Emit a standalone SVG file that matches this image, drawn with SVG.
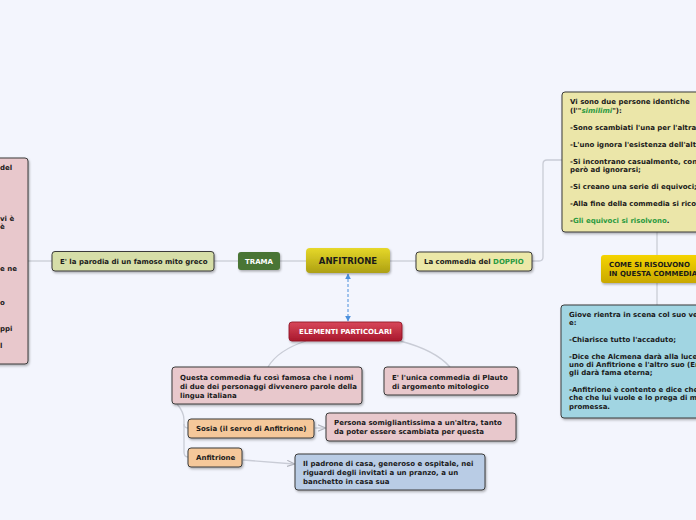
<svg xmlns="http://www.w3.org/2000/svg" width="696" height="520" viewBox="0 0 696 520">
<style>
text{font-family:"DejaVu Sans",Verdana,sans-serif;font-weight:bold;font-size:7px;fill:#1a1a1a}
.w{fill:#fff}
.g{fill:#2a9a40}
.box{stroke:#3a3a3a;stroke-width:1}
.c{fill:none;stroke:#c9ccd6;stroke-width:1.3}
</style>
<defs>
<filter id="sh" x="-10%" y="-10%" width="130%" height="140%"><feDropShadow dx="1" dy="1.5" stdDeviation="1" flood-color="#000" flood-opacity="0.3"/></filter>
<linearGradient id="gy" x1="0" y1="0" x2="0" y2="1"><stop offset="0" stop-color="#e6d82a"/><stop offset="1" stop-color="#ada012"/></linearGradient>
<linearGradient id="gg" x1="0" y1="0" x2="0" y2="1"><stop offset="0" stop-color="#f5d400"/><stop offset="1" stop-color="#c9a800"/></linearGradient>
<linearGradient id="gr" x1="0" y1="0" x2="0" y2="1"><stop offset="0" stop-color="#d8475a"/><stop offset="1" stop-color="#a8182c"/></linearGradient>
<marker id="ab" viewBox="0 0 10 10" refX="9" refY="5" markerWidth="6" markerHeight="6" orient="auto-start-reverse"><path d="M0,0 L10,5 L0,10 z" fill="#4a8fdc"/></marker>
<marker id="ag" viewBox="0 0 10 10" refX="9" refY="5" markerWidth="6" markerHeight="6" orient="auto"><path d="M0,1 L10,5 L0,9" fill="none" stroke="#b0b3bc" stroke-width="1.5"/></marker>
</defs>
<rect width="696" height="520" fill="#f3f5fd"/>
<g id="connectors">
<path class="c" d="M28,261 H52"/>
<path class="c" d="M214,261 H238"/>
<path class="c" d="M280,261 H306"/>
<path class="c" d="M390,261 H416"/>
<path class="c" d="M532,261 H539 Q543,261 543,257 V164 Q543,160 547,160 H562"/>
<path class="c" d="M657,232 V255"/>
<path class="c" d="M657,283 V305"/>
<path d="M348,274 V321" fill="none" stroke="#4a8fdc" stroke-width="1" stroke-dasharray="3,2" marker-start="url(#ab)" marker-end="url(#ab)"/>
<path class="c" d="M306,341 Q278,350 268,367"/>
<path class="c" d="M400,341 Q435,350 450,367"/>
<path class="c" d="M177,404 Q184,412 184,420 V452 Q184,457 188,457"/>
<path class="c" d="M184,424 Q184,428 188,428"/>
<path class="c" d="M315,428 H325" marker-end="url(#ag)"/>
<path class="c" d="M243,460 L294,464" marker-end="url(#ag)"/>
</g>
<g id="left-note">
<rect class="box" x="-10" y="158" width="38" height="206" rx="3" fill="#e8c8cc" filter="url(#sh)"/>
<text x="0" y="170">del</text>
<text x="0" y="221">vi è</text>
<text x="0" y="229">è</text>
<text x="0" y="271">e ne</text>
<text x="0" y="305">o</text>
<text x="0" y="331">ppi</text>
<text x="0" y="348">l</text>
</g>
<g id="parodia">
<rect class="box" x="52" y="251.5" width="162" height="19.5" rx="3" fill="#d6dea8" filter="url(#sh)"/>
<text x="60" y="264">E' la parodia di un famoso mito greco</text>
</g>
<g id="trama">
<rect x="238" y="252" width="42" height="18" rx="3" fill="#4a7535" filter="url(#sh)"/>
<text class="w" x="259" y="264" text-anchor="middle">TRAMA</text>
</g>
<g id="anfitrione">
<rect x="306" y="248" width="84" height="25" rx="4" fill="url(#gy)" filter="url(#sh)"/>
<text x="348" y="264" text-anchor="middle" style="font-size:8.5px">ANFITRIONE</text>
</g>
<g id="doppio">
<rect class="box" x="416" y="252" width="116" height="19" rx="3" fill="#ece8a8" filter="url(#sh)"/>
<text x="424" y="264">La commedia del <tspan class="g">DOPPIO</tspan></text>
</g>
<g id="similimi">
<rect class="box" x="562" y="92" width="150" height="140" rx="3" fill="#ebe6a9" filter="url(#sh)"/>
<text x="570" y="104">Vi sono due persone identiche</text>
<text x="570" y="113">(l'"<tspan class="g" font-style="italic">similimi</tspan>"):</text>
<text x="570" y="130">-Sono scambiati l'una per l'altra</text>
<text x="570" y="147">-L'uno ignora l'esistenza dell'altro</text>
<text x="570" y="164">-Si incontrano casualmente, continuando</text>
<text x="570" y="172">però ad ignorarsi;</text>
<text x="570" y="189">-Si creano una serie di equivoci;</text>
<text x="570" y="206">-Alla fine della commedia si riconoscono</text>
<text x="570" y="223">-<tspan class="g">Gli equivoci si risolvono</tspan>.</text>
</g>
<g id="come">
<rect x="601" y="255" width="110" height="28" rx="3" fill="url(#gg)" filter="url(#sh)"/>
<text x="609" y="267">COME SI RISOLVONO</text>
<text x="609" y="276">IN QUESTA COMMEDIA</text>
</g>
<g id="giove">
<rect class="box" x="561" y="305" width="150" height="113" rx="3" fill="#a1d5e2" filter="url(#sh)"/>
<text x="569" y="317">Giove rientra in scena col suo vero</text>
<text x="569" y="325">e:</text>
<text x="569" y="342">-Chiarisce tutto l'accaduto;</text>
<text x="569" y="359">-Dice che Alcmena darà alla luce due</text>
<text x="569" y="367">uno di Anfitrione e l'altro suo (Ercole)</text>
<text x="569" y="375">gli darà fama eterna;</text>
<text x="569" y="392">-Anfitrione è contento e dice che farà</text>
<text x="569" y="400">che che lui vuole e lo prega di mantenere</text>
<text x="569" y="409">promessa.</text>
</g>
<g id="elementi">
<rect x="289" y="322" width="113" height="19" rx="3" fill="url(#gr)" stroke="#8a1020" stroke-width="0.8" filter="url(#sh)"/>
<text class="w" x="345.5" y="334" text-anchor="middle">ELEMENTI PARTICOLARI</text>
</g>
<g id="questa">
<rect class="box" x="172" y="367" width="190" height="37" rx="3" fill="#e8c8cc" filter="url(#sh)"/>
<text x="180" y="380">Questa commedia fu così famosa che i nomi</text>
<text x="180" y="389">di due dei personaggi divvenero parole della</text>
<text x="180" y="398">lingua italiana</text>
</g>
<g id="unica">
<rect class="box" x="384" y="367" width="134" height="28" rx="3" fill="#e8c8cc" filter="url(#sh)"/>
<text x="392" y="380">E' l'unica commedia di Plauto</text>
<text x="392" y="389">di argomento mitologico</text>
</g>
<g id="sosia">
<rect class="box" x="188" y="419" width="126" height="19" rx="3" fill="#f5c89a" filter="url(#sh)"/>
<text x="196" y="431">Sosia (il servo di Anfitrione)</text>
</g>
<g id="persona">
<rect class="box" x="326" y="413" width="190" height="28" rx="3" fill="#e8c8cc" filter="url(#sh)"/>
<text x="334" y="425">Persona somigliantissima a un'altra, tanto</text>
<text x="334" y="434">da poter essere scambiata per questa</text>
</g>
<g id="anfitrione2">
<rect class="box" x="188" y="448" width="54" height="19" rx="3" fill="#f5c89a" filter="url(#sh)"/>
<text x="196" y="460">Anfitrione</text>
</g>
<g id="padrone">
<rect class="box" x="295" y="454" width="190" height="36" rx="3" fill="#b9cce5" filter="url(#sh)"/>
<text x="303" y="466">Il padrone di casa, generoso e ospitale, nei</text>
<text x="303" y="475">riguardi degli invitati a un pranzo, a un</text>
<text x="303" y="484">banchetto in casa sua</text>
</g>
</svg>
